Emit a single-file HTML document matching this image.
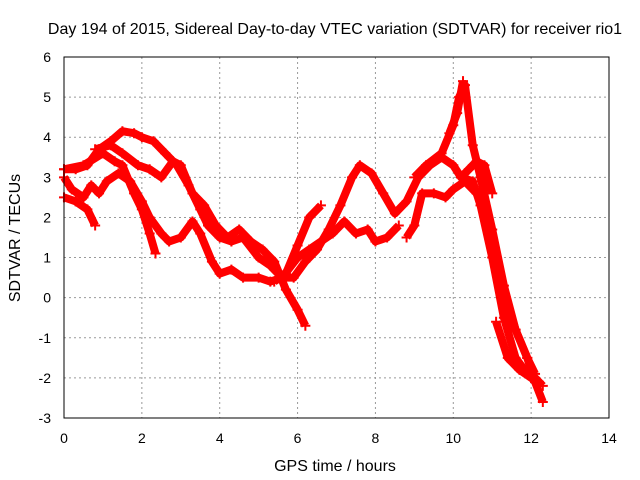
<!DOCTYPE html>
<html><head><meta charset="utf-8"><style>
html,body{margin:0;padding:0;background:#fff}
svg{display:block;font-family:"Liberation Sans",sans-serif}
</style></head><body>
<svg id="chart" width="640" height="480">
<rect x="0" y="0" width="640" height="480" fill="#fff"/>
<g id="grid"></g>
<g id="series"></g>
<rect x="64" y="57" width="545" height="361" fill="none" stroke="#000" stroke-width="1"/>
<g id="ticks"></g>
<text x="335" y="34" font-size="16" text-anchor="middle">Day 194 of 2015, Sidereal Day-to-day VTEC variation (SDTVAR) for receiver rio1</text>
<text x="335" y="471" font-size="16" text-anchor="middle">GPS time / hours</text>
<text x="20" y="238" font-size="16" text-anchor="middle" transform="rotate(-90 20 238)">SDTVAR / TECUs</text>
</svg>
<script>
const xTicks=[0,2,4,6,8,10,12,14];
const yTicks=[-3,-2,-1,0,1,2,3,4,5,6];
const traceA_t=[0,0.3,0.6,0.9,1.2,1.5,1.8,2.0,2.3,2.6,2.9,3.2,3.5,3.7,4.0,4.3,4.6,5.0,5.3,5.6,5.9,6.2,6.5,6.8,7.1,7.4,7.6,7.9,8.2,8.5,8.8,9.1,9.4,9.7,10.0,10.2,10.5,10.7,11.0,11.3,11.6,11.9,12.1,12.3];
const traceA_v=[3.2,3.2,3.3,3.7,3.9,4.15,4.1,4.0,3.9,3.6,3.3,2.8,2.2,1.8,1.5,1.4,1.5,1.0,0.8,0.5,0.5,0.9,1.2,1.7,2.3,3.0,3.3,3.1,2.6,2.1,2.4,3.0,3.3,3.5,3.3,3.0,2.9,2.3,1.0,-0.5,-1.5,-1.9,-2.0,-2.2];
const traceB_t=[0,0.2,0.5,0.7,0.9,1.1,1.4,1.7,2.0,2.2,2.5,2.7,3.0,3.3,3.5,3.8,4.0,4.3,4.6,5.0,5.3,5.6,6.0,6.3,6.6,6.9,7.2,7.5,7.8,8.0,8.3,8.6];
const traceB_v=[3.0,2.7,2.5,2.8,2.6,2.9,3.1,2.9,2.4,2.0,1.6,1.4,1.5,1.9,1.6,0.9,0.6,0.7,0.5,0.5,0.4,0.5,1.0,1.2,1.4,1.6,1.9,1.6,1.7,1.4,1.5,1.8];
const traceC_t=[0,0.3,0.6,0.8];
const traceC_v=[2.5,2.4,2.2,1.8];
const traceD_t=[0,0.5,1.0,1.3,1.5,1.8,2.0,2.2,2.35];
const traceD_v=[3.2,3.3,3.6,3.4,3.3,2.6,2.2,1.6,1.1];
const traceE_t=[0.8,1.2,1.5,1.9,2.2,2.5,2.8,3.0,3.3,3.6,3.9,4.2,4.5,4.8,5.1,5.4,5.7,6.0,6.2];
const traceE_v=[3.7,3.8,3.6,3.3,3.2,3.0,3.4,3.3,2.6,2.3,1.8,1.5,1.7,1.4,1.2,0.9,0.2,-0.3,-0.7];
const traceF_t=[5.4,5.7,6.0,6.3,6.6];
const traceF_v=[0.4,0.6,1.3,2.0,2.3];
const traceG_t=[8.8,9.0,9.2,9.5,9.8,10.0,10.3,10.6,10.8,11.0,11.3,11.6,11.9,12.1,12.3];
const traceG_v=[1.5,1.8,2.6,2.6,2.5,2.7,2.9,2.6,2.3,1.3,0.1,-0.8,-1.5,-2.1,-2.6];
const traceH_t=[9.0,9.3,9.7,10.0,10.15,10.3,10.5,10.7,11.0,11.3,11.6,11.9,12.1];
const traceH_v=[3.0,3.3,3.6,4.3,5.0,5.3,3.8,3.0,1.7,0.3,-0.8,-1.5,-1.9];
const traceI_t=[9.9,10.1,10.25];
const traceI_v=[4.1,4.6,5.4];
const traceJ_t=[11.1,11.4,11.7,12.0,12.2];
const traceJ_v=[-0.6,-1.5,-1.8,-2.0,-2.1];
const traceK_t=[10.2,10.4,10.6,10.8,11.0];
const traceK_v=[3.0,3.2,3.4,3.3,2.6];
const traces=[[traceA_t,traceA_v],[traceB_t,traceB_v],[traceC_t,traceC_v],[traceD_t,traceD_v],[traceE_t,traceE_v],[traceF_t,traceF_v],[traceG_t,traceG_v],[traceH_t,traceH_v],[traceI_t,traceI_v],[traceJ_t,traceJ_v],[traceK_t,traceK_v]];
const NS='http://www.w3.org/2000/svg';
function X(t){return 64+t*(545/14);}
function Y(v){return 418-(v+3)*(361/9);}
const grid=document.getElementById('grid'),ticks=document.getElementById('ticks'),ser=document.getElementById('series');
xTicks.forEach(t=>{
 if(t>0&&t<14){const l=document.createElementNS(NS,'line');
 
 
 l.setAttribute('x1',X(t));l.setAttribute('x2',X(t));l.setAttribute('y1',57);l.setAttribute('y2',418);
 l.setAttribute('stroke','#999');l.setAttribute('stroke-dasharray','2,3');grid.appendChild(l);}
 const tx=document.createElementNS(NS,'text');
 
 
 tx.setAttribute('x',X(t));tx.setAttribute('y',443);tx.setAttribute('font-size','14');tx.setAttribute('text-anchor','middle');
 tx.textContent=t;ticks.appendChild(tx);
});
yTicks.forEach(v=>{
 if(v>-3&&v<6){const l=document.createElementNS(NS,'line');
 
 
 l.setAttribute('x1',64);l.setAttribute('x2',609);l.setAttribute('y1',Y(v));l.setAttribute('y2',Y(v));
 l.setAttribute('stroke','#999');l.setAttribute('stroke-dasharray','2,3');grid.appendChild(l);}
 const tx=document.createElementNS(NS,'text');
 
 
 tx.setAttribute('x',51);tx.setAttribute('y',Y(v)+5);tx.setAttribute('font-size','14');tx.setAttribute('text-anchor','end');
 tx.textContent=v;ticks.appendChild(tx);
});
traces.forEach(([ts,vs])=>{
 const p=document.createElementNS(NS,'polyline');
 
 
 p.setAttribute('points',ts.map((t,i)=>X(t)+','+Y(vs[i])).join(' '));
 p.setAttribute('fill','none');p.setAttribute('stroke','#ff0000');p.setAttribute('stroke-width','8');p.setAttribute('stroke-linejoin','round');
 ser.appendChild(p);
 ts.forEach((t,i)=>{
  const m=document.createElementNS(NS,'path');
  
  
  const x=X(t),y=Y(vs[i]);
  m.setAttribute('d',`M${x-5},${y}H${x+5}M${x},${y-5}V${y+5}`);
  m.setAttribute('stroke','#ff0000');m.setAttribute('stroke-width','2');
  ser.appendChild(m);
 });
});
</script>
</body></html>
